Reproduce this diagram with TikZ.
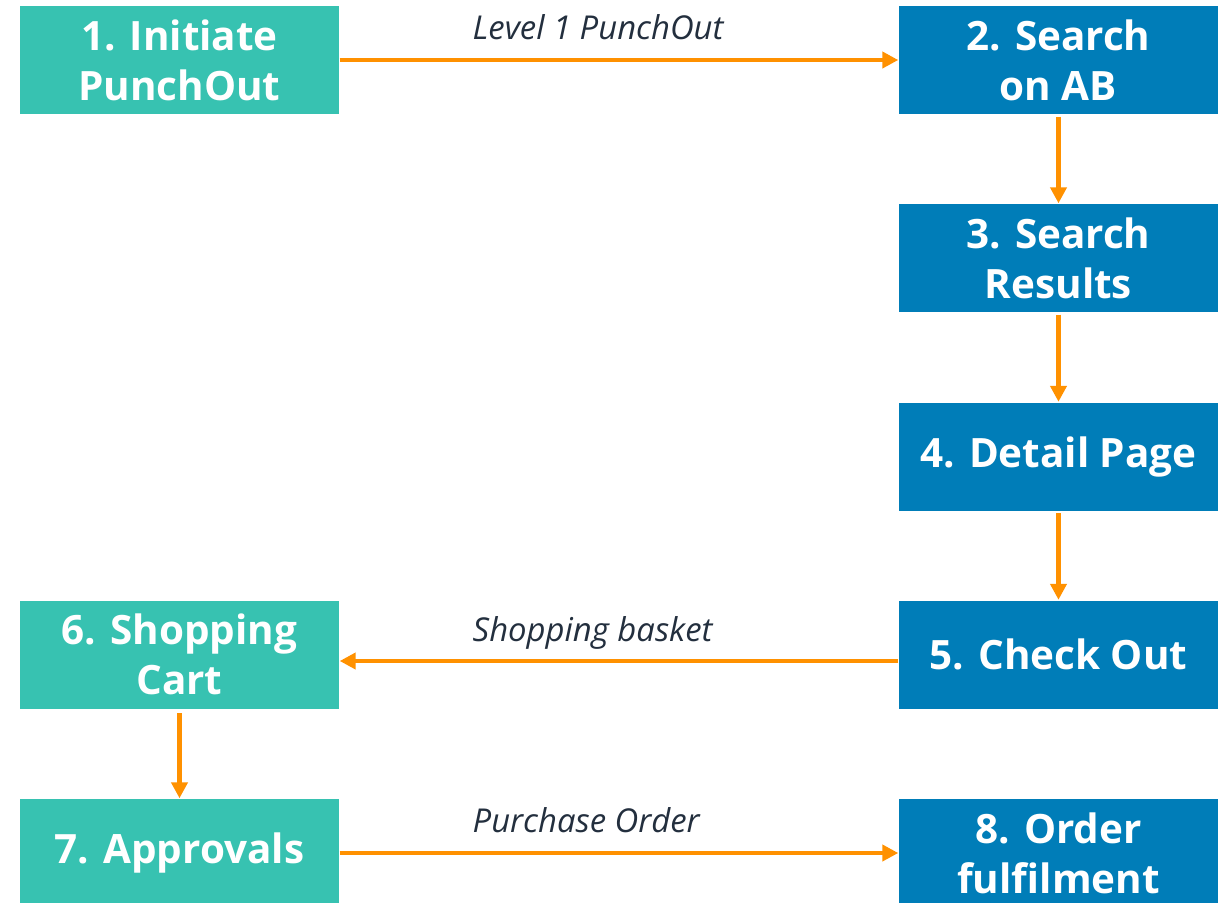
\documentclass[tikz,border=0pt]{standalone}
\usepackage{fontspec}
\setmainfont{Open Sans}
\usetikzlibrary{arrows.meta}

\definecolor{buyerteal}{RGB}{55,194,177}
\definecolor{sellerblue}{RGB}{0,125,184}
\definecolor{floworange}{RGB}{255,145,0}
\definecolor{labelink}{RGB}{35,47,62}

\tikzset{
  stage/.style={minimum width=3.19cm, minimum height=1.08cm, inner sep=0pt, align=center,
    text=white, font=\fontsize{11.5}{14.2}\selectfont\bfseries},
  buyer/.style={stage, fill=buyerteal},
  seller/.style={stage, fill=sellerblue},
  flow/.style={draw=floworange, line width=1.15pt, -{Triangle[length=4.5pt, width=4.5pt]}},
  tag/.style={anchor=base west, inner sep=0pt, text=labelink, font=\fontsize{9.35}{10}\selectfont\itshape}
}

\begin{document}
\begin{tikzpicture}
    \fill [white] (0, 0) rectangle (12.23, 9.02);
    \clip (0, 0) rectangle (12.23, 9.02);

    % buyer side on the left, supplier side on the right
    \node [buyer] (initiate) at (1.795, 8.42) {1. Initiate\\PunchOut};
    \node [seller] (search) at (10.585, 8.42) {2. Search\\on AB};
    \node [seller] (results) at (10.585, 6.44) {3. Search\\Results};
    \node [seller] (detail) at (10.585, 4.455) {4. Detail Page};
    \node [seller] (checkout) at (10.585, 2.475) {5. Check Out};
    \node [buyer] (cart) at (1.795, 2.475) {6. Shopping\\Cart};
    \node [buyer] (approvals) at (1.795, 0.49) {7. Approvals};
    \node [seller] (fulfil) at (10.585, 0.49) {8. Order\\fulfilment};

    \draw [flow] (initiate) -- (search);
    \draw [flow, shorten <=0.02cm] (search) -- (results);
    \draw [flow, shorten <=0.02cm] (results) -- (detail);
    \draw [flow, shorten <=0.02cm] (detail) -- (checkout);
    \draw [flow] ([yshift=-0.065cm] checkout.west) -- ([yshift=-0.065cm] cart.east);
    \draw [flow, shorten <=0.04cm] (cart) -- (approvals);
    \draw [flow] (approvals) -- (fulfil);

    \node [tag] (punchout) at (4.72, 8.63) {Level 1 PunchOut};
    \node [tag] (basket) at (4.72, 2.61) {Shopping basket};
    \node [tag] (order) at (4.72, 0.70) {Purchase Order};
\end{tikzpicture}
\end{document}
